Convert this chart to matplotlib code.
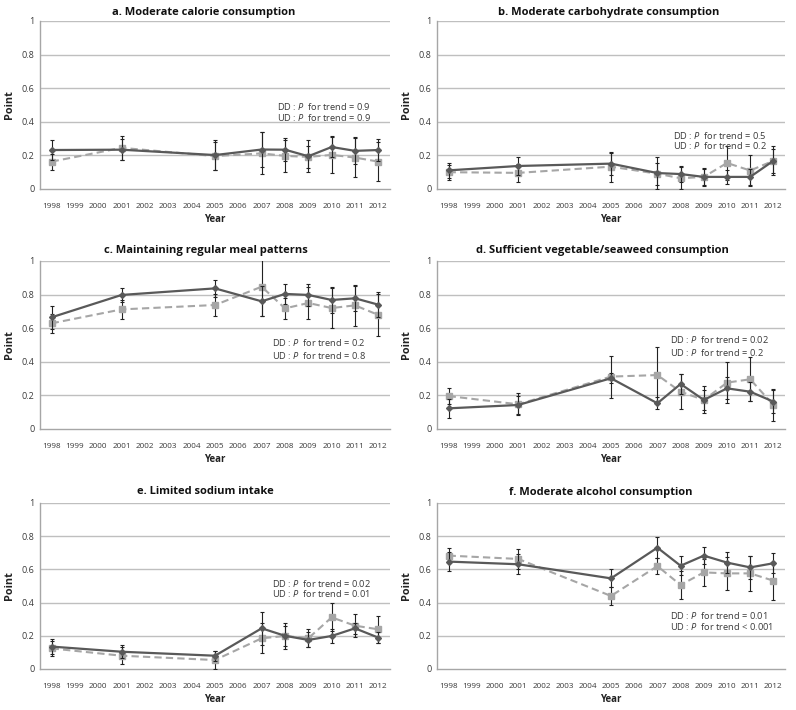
import matplotlib
matplotlib.use('Agg')
import matplotlib.pyplot as plt

plt.rcParams['font.family'] = ['Open Sans', 'DejaVu Sans']
plt.rcParams['mathtext.fontset'] = 'custom'
plt.rcParams['mathtext.it'] = 'Open Sans:italic'
plt.rcParams['mathtext.rm'] = 'Open Sans'

categories = ['1998', '1999', '2000', '2001', '2002', '2003', '2004', '2005',
              '2006', '2007', '2008', '2009', '2010', '2011', '2012']
data_years = ['1998', '2001', '2005', '2007', '2008', '2009', '2010', '2011', '2012']

titles = ['a. Moderate calorie consumption',
          'b. Moderate carbohydrate consumption',
          'c. Maintaining regular meal patterns',
          'd. Sufficient vegetable/seaweed consumption',
          'e. Limited sodium intake',
          'f. Moderate alcohol consumption']

dd_a = [0.232, 0.234, 0.202, 0.235, 0.234, 0.195, 0.25, 0.227, 0.232]
dd_a_err = [0.057, 0.062, 0.09, 0.105, 0.07, 0.095, 0.057, 0.08, 0.063]
ud_a = [0.163, 0.245, 0.196, 0.212, 0.197, 0.191, 0.203, 0.187, 0.163]
ud_a_err = [0.047, 0.073, 0.085, 0.125, 0.095, 0.065, 0.11, 0.115, 0.115]

dd_b = [0.111, 0.137, 0.151, 0.095, 0.089, 0.072, 0.072, 0.072, 0.168]
dd_b_err = [0.046, 0.054, 0.065, 0.095, 0.045, 0.055, 0.04, 0.05, 0.07]
ud_b = [0.1, 0.096, 0.133, 0.091, 0.064, 0.072, 0.155, 0.11, 0.168]
ud_b_err = [0.045, 0.055, 0.09, 0.065, 0.065, 0.05, 0.1, 0.09, 0.085]

dd_c = [0.665, 0.798, 0.837, 0.76, 0.804, 0.798, 0.768, 0.778, 0.74]
dd_c_err = [0.07, 0.043, 0.05, 0.09, 0.057, 0.063, 0.075, 0.075, 0.075]
ud_c = [0.629, 0.712, 0.738, 0.847, 0.718, 0.75, 0.72, 0.736, 0.679]
ud_c_err = [0.058, 0.057, 0.065, 0.175, 0.063, 0.095, 0.118, 0.123, 0.125]

dd_d = [0.123, 0.143, 0.302, 0.153, 0.268, 0.173, 0.242, 0.222, 0.163]
dd_d_err = [0.055, 0.055, 0.03, 0.035, 0.057, 0.06, 0.065, 0.055, 0.07]
ud_d = [0.196, 0.147, 0.312, 0.321, 0.222, 0.173, 0.276, 0.296, 0.143]
ud_d_err = [0.047, 0.065, 0.125, 0.165, 0.105, 0.08, 0.12, 0.13, 0.095]

dd_e = [0.135, 0.104, 0.08, 0.245, 0.2, 0.175, 0.199, 0.245, 0.189]
dd_e_err = [0.045, 0.04, 0.03, 0.1, 0.06, 0.045, 0.04, 0.035, 0.035]
ud_e = [0.124, 0.08, 0.054, 0.185, 0.199, 0.185, 0.311, 0.261, 0.239]
ud_e_err = [0.045, 0.05, 0.055, 0.09, 0.08, 0.055, 0.085, 0.07, 0.08]

dd_f = [0.647, 0.631, 0.546, 0.731, 0.622, 0.683, 0.641, 0.612, 0.637]
dd_f_err = [0.055, 0.06, 0.055, 0.062, 0.058, 0.05, 0.062, 0.07, 0.06]
ud_f = [0.683, 0.663, 0.44, 0.62, 0.506, 0.582, 0.576, 0.576, 0.532]
ud_f_err = [0.045, 0.06, 0.055, 0.05, 0.085, 0.08, 0.1, 0.105, 0.115]

dd_series = [dd_a, dd_b, dd_c, dd_d, dd_e, dd_f]
dd_errs = [dd_a_err, dd_b_err, dd_c_err, dd_d_err, dd_e_err, dd_f_err]
ud_series = [ud_a, ud_b, ud_c, ud_d, ud_e, ud_f]
ud_errs = [ud_a_err, ud_b_err, ud_c_err, ud_d_err, ud_e_err, ud_f_err]

p_dd = ['0.9', '0.5', '0.2', '0.02', '0.02', '0.01']
p_ud = ['= 0.9', '= 0.2', '= 0.8', '= 0.2', '= 0.01', '< 0.001']

y_ticks = [0, 0.2, 0.4, 0.6, 0.8, 1]
y_tick_labels = ['0', '0.2', '0.4', '0.6', '0.8', '1']

W, H = 796, 710
fig = plt.figure(figsize=(W / 100, H / 100), dpi=100)

# axes boxes in pixels: left, right, y of value 0, y of value 1
boxes = [(40, 390, 189, 21), (437, 785, 189, 21),
         (40, 390, 429, 261), (437, 785, 429, 261),
         (40, 390, 669, 503), (437, 785, 669, 503)]
title_pos = [(204, 12), (609, 12), (206, 251), (602, 251), (205, 492), (601, 492)]
annot_pos = [(9.66, 0.494, 0.423), (9.67, 0.321, 0.256),
             (9.44, 0.512, 0.44), (9.54, 0.53, 0.458),
             (9.44, 0.518, 0.452), (9.54, 0.325, 0.259)]

xpos = [categories.index(y) for y in data_years]

grid_col = '#bfbfbf'
dd_col = '#595959'
ud_col = '#a6a6a6'
txt_col = '#3a3a3a'

for i in range(6):
    l, r, y0, y1 = boxes[i]
    ax = fig.add_axes([l / W, 1 - y0 / H, (r - l) / W, (y0 - y1) / H])
    ax.set_xlim(-0.5, len(categories) - 0.5)
    ax.set_ylim(0, 1)
    for yt in y_ticks[1:]:
        ax.axhline(yt, color=grid_col, lw=1.0, zorder=0)
    for s in ['top', 'right']:
        ax.spines[s].set_visible(False)
    ax.spines['left'].set_color('#a6a6a6')
    ax.spines['bottom'].set_color('#a6a6a6')
    ax.spines['left'].set_linewidth(1.0)
    ax.spines['bottom'].set_linewidth(1.0)
    ax.set_xticks(range(len(categories)))
    ax.set_xticklabels(categories, fontsize=5.9, color=txt_col)
    ax.set_yticks(y_ticks)
    ax.set_yticklabels(y_tick_labels, fontsize=6.5, color=txt_col)
    ax.tick_params(axis='x', length=0, pad=10)
    ax.tick_params(axis='y', length=0, pad=4)
    ax.set_xlabel('Year', fontsize=7.0, fontweight='bold', labelpad=3, color='#222222')
    ax.set_ylabel('Point', fontsize=7.8, fontweight='bold', labelpad=5, color='#222222')

    # UD series (light dashed)
    ax.errorbar(xpos, ud_series[i], yerr=ud_errs[i], fmt='none', ecolor='#222222',
                elinewidth=0.8, capsize=1.6, capthick=0.8, zorder=3)
    ax.plot(xpos, ud_series[i], color=ud_col, lw=1.5, ls=(0, (3.5, 2)),
            marker='s', ms=4.0, mfc=ud_col, mec=ud_col, zorder=4)
    # DD series (dark solid)
    ax.errorbar(xpos, dd_series[i], yerr=dd_errs[i], fmt='none', ecolor='#222222',
                elinewidth=0.8, capsize=1.6, capthick=0.8, zorder=5)
    ax.plot(xpos, dd_series[i], color=dd_col, lw=1.6, ls='-',
            marker='D', ms=3.0, mfc=dd_col, mec=dd_col, zorder=6)

    ax_x, ty1, ty2 = annot_pos[i]
    ax.text(ax_x, ty1, 'DD : $\\it{P}$  for trend = ' + p_dd[i], fontsize=6.7,
            va='center', ha='left', color=txt_col)
    ax.text(ax_x, ty2, 'UD : $\\it{P}$  for trend ' + p_ud[i], fontsize=6.7,
            va='center', ha='left', color=txt_col)

    tx, ty = title_pos[i]
    fig.text(tx / W, 1 - ty / H, titles[i], fontsize=8.0, fontweight='bold',
             ha='center', va='center', color='#111111')

fig.savefig('out.png', dpi=100)
